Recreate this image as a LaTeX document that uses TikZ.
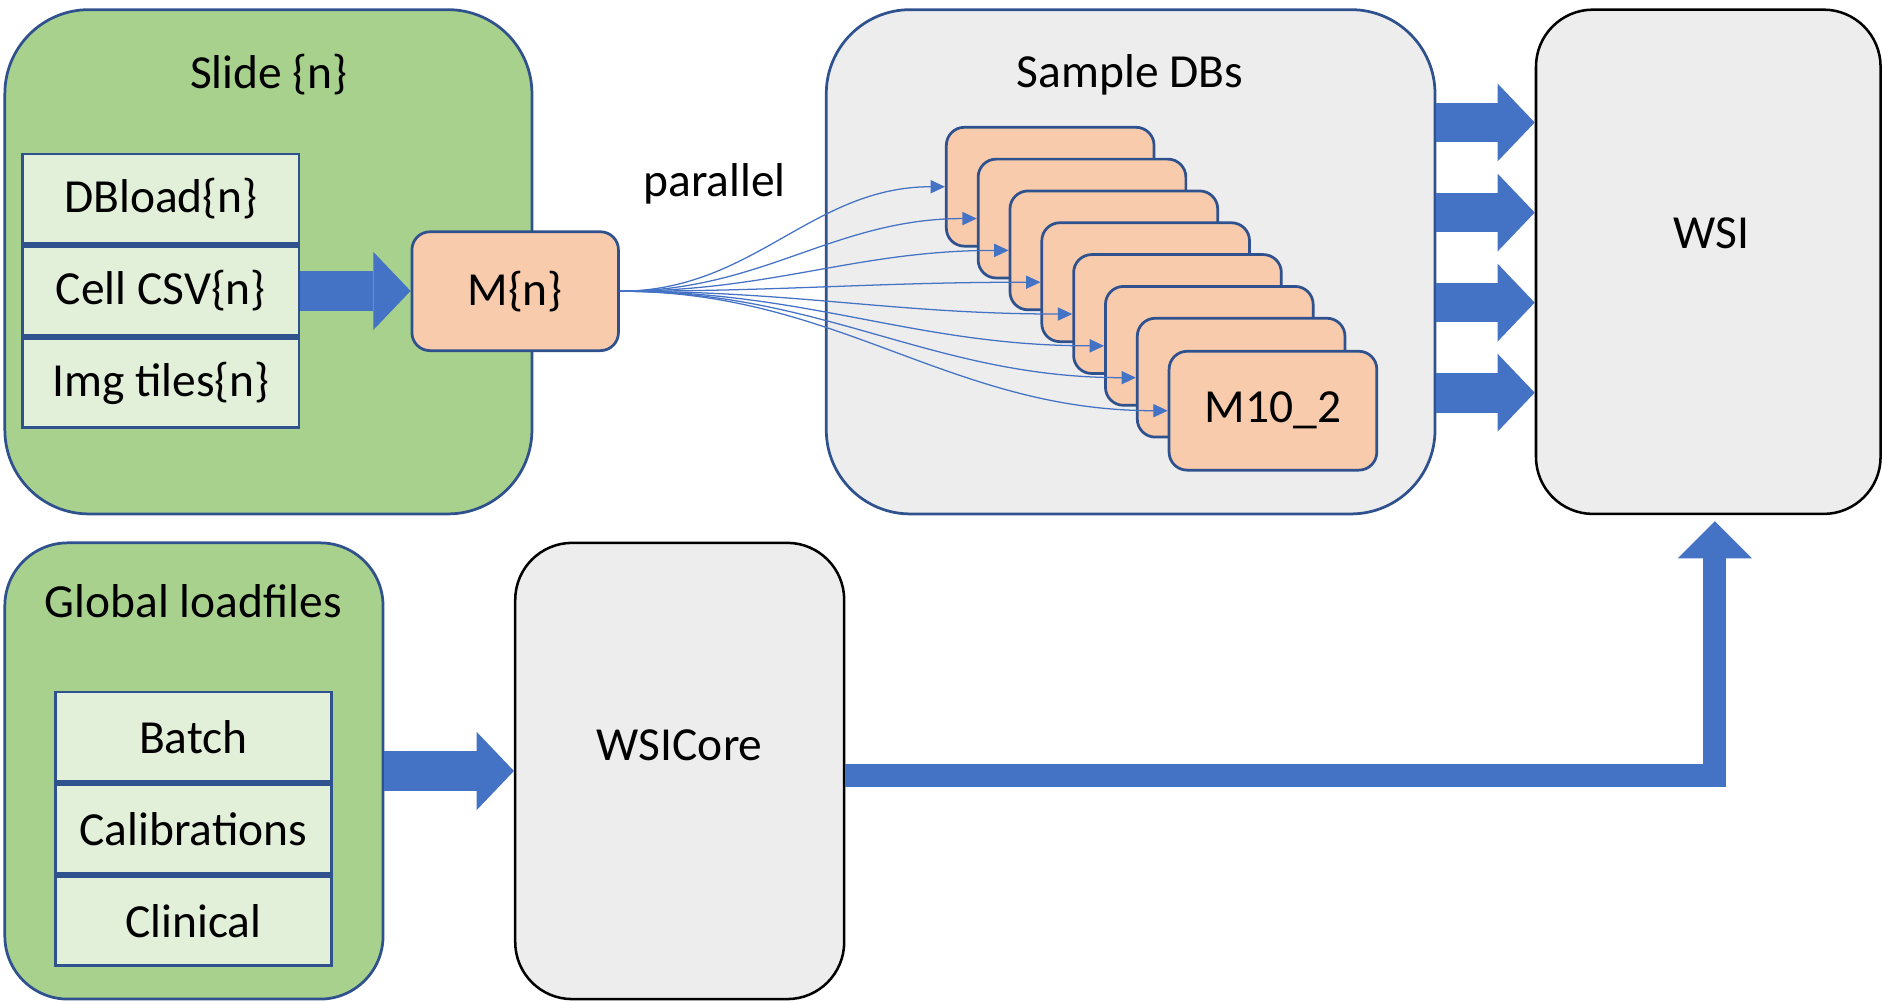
\documentclass[tikz,border=0pt]{standalone}
\usepackage{fontspec}
\setmainfont{Carlito}
\usetikzlibrary{arrows.meta,positioning}
\definecolor{slidegreen}{HTML}{A9D18E}
\definecolor{cellgreen}{HTML}{E2F0D9}
\definecolor{mpeach}{HTML}{F8CBAD}
\definecolor{dbgrey}{HTML}{EDEDED}
\definecolor{edgeblue}{HTML}{2F528F}
\definecolor{flowblue}{HTML}{4472C4}
\begin{document}
\begin{tikzpicture}[x=0.02cm, y=-0.02cm,
    every node/.style={font=\fontsize{22.5}{27}\selectfont},
    groupbox/.style={draw=edgeblue, line width=1.3pt, fill=slidegreen},
    cellbox/.style={draw=edgeblue, line width=1.3pt, fill=cellgreen, minimum width=4.6cm, minimum height=1.49cm, inner sep=0pt},
    mbox/.style={draw=edgeblue, line width=1.3pt, fill=mpeach, rounded corners=0.3cm, minimum width=3.46cm, minimum height=1.98cm},
    dbbox/.style={draw=edgeblue, line width=1.3pt, fill=dbgrey},
    corebox/.style={draw=black, line width=1.2pt, fill=dbgrey},
    fatarrow/.style={draw=flowblue, line width=0.66cm, -{Triangle[length=0.62cm, width=1.3cm, line width=0pt]}},
    thinarrow/.style={draw=flowblue, line width=0.6pt, -{Triangle[length=0.24cm, width=0.22cm]}}]
        \useasboundingbox (0,0) rectangle (1568,834);

        % slide group
        \node[groupbox, rounded corners=1.4cm, minimum width=8.78cm, minimum height=8.4cm] (slide) at (223.5,218) {};
        \node (slidetitle) at (224,62) {Slide \{n\}};
        \node[cellbox] (dbload) at (134,165.5) {DBload\{n\}};
        \node[cellbox, below=0pt of dbload] (cellcsv) {Cell CSV\{n\}};
        \node[cellbox, below=0pt of cellcsv] (imgtiles) {Img tiles\{n\}};
        \node[mbox, minimum width=3.44cm] (m) at (429,242.5) {M\{n\}};
        \path[fatarrow] (cellcsv.east) -- (cellcsv.east -| m.west);
        \node (par) at (595,153) {parallel};

        % sample databases
        \node[dbbox, rounded corners=1.4cm, minimum width=10.14cm, minimum height=8.4cm] (sdb) at (941.5,218) {};
        \node (sdbtitle) at (941,62) {Sample DBs};
        \foreach \i in {1,...,7}
            \node[mbox] (db\i) at ({874.5+26.5*(\i-1)},{155.5+26.5*(\i-1)}) {};
        \node[mbox] (db8) at (1060,342) {M10\_2};
        \foreach \i in {1,...,8}
            \path[thinarrow] (m.east) to[out=0,in=180] (db\i.west);

        % WSI
        \node[corebox, rounded corners=0.95cm, minimum width=5.74cm, minimum height=8.4cm] (wsi) at (1422.5,218) {};
        \node (wsilabel) at (1425,194) {WSI};
        \foreach \yy in {102,177,252,327}
            \path[fatarrow] (sdb.east |- 0,\yy) -- (wsi.west |- 0,\yy);

        % global loadfiles
        \node[groupbox, rounded corners=1.05cm, minimum width=6.3cm, minimum height=7.6cm] (glob) at (161.5,642) {};
        \node (globtitle) at (161,501) {Global loadfiles};
        \node[cellbox] (batch) at (161,613.5) {Batch};
        \node[cellbox, below=0pt of batch] (calib) {Calibrations};
        \node[cellbox, below=0pt of calib] (clinical) {Clinical};

        % WSICore
        \node[corebox, rounded corners=0.95cm, minimum width=5.48cm, minimum height=7.6cm] (wsicore) at (566,642) {};
        \node (corelabel) at (566,621) {WSICore};
        \path[fatarrow] (glob.east) -- (wsicore.west);
        \path[fatarrow, line width=0.38cm, -{Triangle[length=0.62cm, width=1.24cm, line width=0pt]}]
            ([yshift=-0.08cm]wsicore.east) -| ([xshift=0.11cm,yshift=-0.1cm]wsi.south);
    \end{tikzpicture}
\end{document}
